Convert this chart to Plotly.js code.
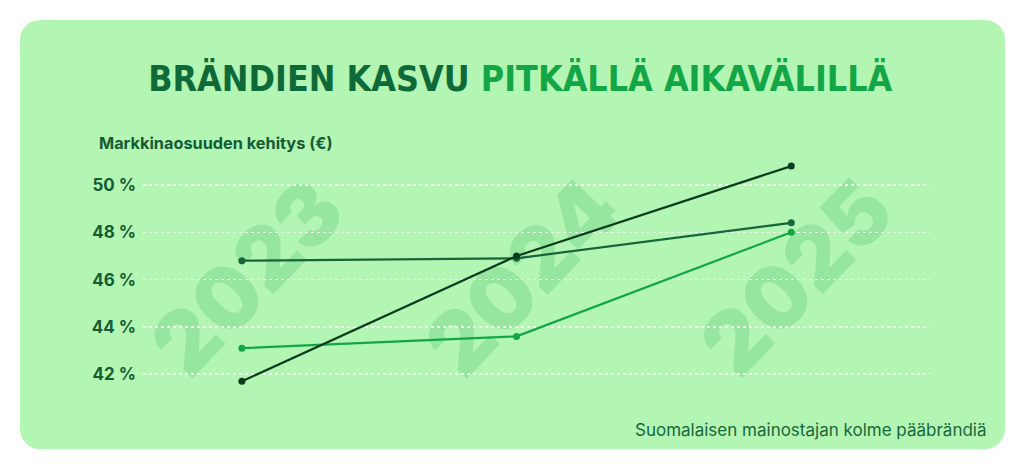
<!DOCTYPE html>
<html>
<head>
<meta charset="utf-8">
<script src="https://cdn.plot.ly/plotly-3.0.1.min.js"></script>
<style>
	html, body { margin: 0; padding: 0; background: #ffffff; }
	#wrap { position: relative; width: 1024px; height: 469px; overflow: hidden; }
	#card {
		position: absolute; left: 20px; top: 20px; width: 985px; height: 429px;
		background: #b3f5b2; border-radius: 20px;
	}
	#chart { position: absolute; left: 0; top: 0; width: 1024px; height: 469px; }
</style>
</head>
<body>
<div id="wrap">
	<div id="card"></div>
	<div id="chart"></div>
</div>
<script>
// --- DATA ---
const years = [2023, 2024, 2025];
const brandA = [41.7, 47.0, 50.8];   // darkest line
const brandB = [46.8, 46.9, 48.4];   // mid green line
const brandC = [43.1, 43.6, 48.0];   // bright green line
const yTicks = [42, 44, 46, 48, 50];

const titleDark = 'BRÄNDIEN KASVU';
const titleLight = 'PITKÄLLÄ AIKAVÄLILLÄ';
const axisLabel = 'Markkinaosuuden kehitys (€)';
const footer = 'Suomalaisen mainostajan kolme pääbrändiä';

const COLORS = { a: '#0c3b20', b: '#17653a', c: '#12a646' };

function lineTrace(y, color) {
	return {
		x: years,
		y: y,
		type: 'scatter',
		mode: 'lines+markers',
		line: { color: color, width: 2.2 },
		marker: { color: color, size: 7 },
		hoverinfo: 'skip',
		showlegend: false
	};
}

const traces = [
	lineTrace(brandB, COLORS.b),
	lineTrace(brandC, COLORS.c),
	lineTrace(brandA, COLORS.a)
];

// big faded year numbers behind the lines
const watermarks = years.map(yr => ({
	type: 'line',
	xref: 'x', yref: 'y',
	x0: yr + 0.01, x1: yr + 0.012,
	y0: 46.2, y1: 46.2,
	layer: 'below',
	line: { width: 0 },
	label: {
		text: String(yr),
		textangle: -46,
		textposition: 'middle',
		xanchor: 'center',
		yanchor: 'middle',
		padding: 0,
		font: { family: 'Inter, DejaVu Sans', size: 86, weight: 900, color: '#96e6a0' }
	}
}));

const layout = {
	width: 1024,
	height: 469,
	paper_bgcolor: 'rgba(0,0,0,0)',
	plot_bgcolor: 'rgba(0,0,0,0)',
	margin: { l: 143, r: 94, t: 150, b: 69 },
	title: {
		text: `${titleDark} <span style="color:${COLORS.c}">${titleLight}</span>`,
		font: { family: 'DejaVu Sans Condensed, sans-serif', size: 35.5, weight: 700, color: '#0f6a39' },
		x: 0.508, xanchor: 'center',
		y: 0.832, yanchor: 'middle'
	},
	xaxis: {
		range: [2022.64, 2025.505],
		showgrid: false, zeroline: false, showline: false,
		showticklabels: false, ticks: ''
	},
	yaxis: {
		range: [40.91, 51.48],
		tickvals: yTicks,
		ticktext: yTicks.map(v => v + ' %'),
		tickfont: { family: 'Inter, Roboto, sans-serif', size: 17, weight: 700, color: '#145c34' },
		ticklabelstandoff: 6,
		showgrid: true,
		gridcolor: '#ffffff',
		gridwidth: 1.5,
		griddash: 'dot',
		zeroline: false, showline: false, ticks: ''
	},
	shapes: watermarks,
	annotations: [
		{
			text: axisLabel,
			xref: 'paper', yref: 'paper',
			x: -0.059, y: 1.028,
			xanchor: 'left', yanchor: 'middle',
			showarrow: false,
			font: { family: 'Inter, Roboto, sans-serif', size: 16.3, weight: 700, color: '#145c34' }
		},
		{
			text: footer,
			xref: 'paper', yref: 'paper',
			x: 1.075, y: -0.12,
			xanchor: 'right', yanchor: 'middle',
			showarrow: false,
			font: { family: 'Inter, Roboto, sans-serif', size: 17, color: '#17683b' }
		}
	]
};

Plotly.newPlot('chart', traces, layout, { displayModeBar: false, staticPlot: true });
</script>
</body>
</html>
